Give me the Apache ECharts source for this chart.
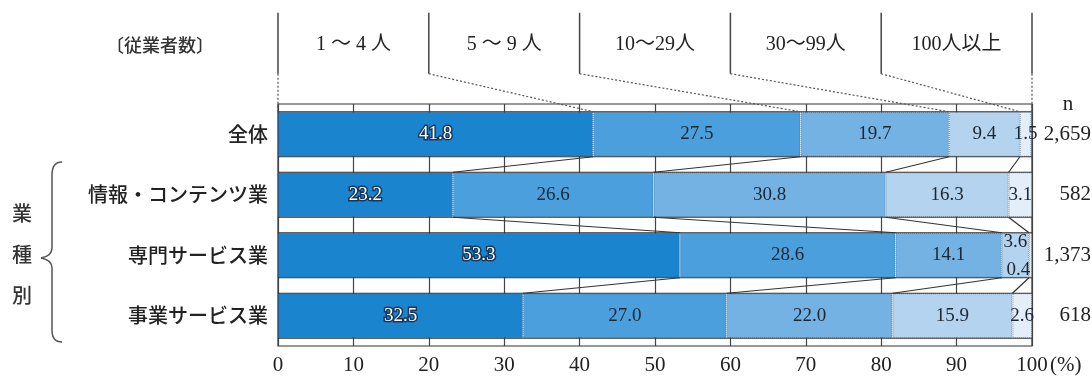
<!DOCTYPE html>
<html>
<head>
<meta charset="utf-8">
<script src="https://cdn.jsdelivr.net/npm/echarts@6/dist/echarts.min.js"></script>
<style>
  html, body { margin: 0; padding: 0; background: #ffffff; }
  #chart { width: 1092px; height: 376px; }
</style>
</head>
<body>
<div id="chart"></div>
<script>
// Rows (industries) and employee-size classes
const categories = ['全体', '情報・コンテンツ業', '専門サービス業', '事業サービス業'];
const sizeClasses = ['1 ～ 4 人', '5 ～ 9 人', '10～29人', '30～99人', '100人以上'];

// Share of firms per size class (%), one value per row
const share1to4 = [41.8, 23.2, 53.3, 32.5];
const share5to9 = [27.5, 26.6, 28.6, 27.0];
const share10to29 = [19.7, 30.8, 14.1, 22.0];
const share30to99 = [9.4, 16.3, 3.6, 15.9];
const share100plus = [1.5, 3.1, 0.4, 2.6];

// Number of respondents per row
const nValues = ['2,659', '582', '1,373', '618'];

// Axis ticks
const xTicks = [0, 10, 20, 30, 40, 50, 60, 70, 80, 90, 100];

const seriesValues = [share1to4, share5to9, share10to29, share30to99, share100plus];
const colors = ['#1b84cf', '#4a9fdc', '#73b2e3', '#b3d3ee', '#e3eef8'];
const FONT = "'Liberation Serif', 'Noto Sans CJK JP', serif";
const JP_FONT = "'Noto Sans CJK JP', sans-serif";
const BAR_WIDTH = 45;
const LINE = '#333333';

// cumulative boundaries of each row (start at 0)
const cumulative = categories.map((_, r) => {
  const out = [0];
  let s = 0;
  seriesValues.forEach(vals => { s += vals[r]; out.push(Math.round(s * 10) / 10); });
  return out;
});

// per-point label adjustments for narrow segments
const labelTweaks = {
  '3-2': { offset: [0, -13] },
  '4-2': { offset: [-12, 15] }
};

const barSeries = seriesValues.map((vals, s) => ({
  name: sizeClasses[s],
  type: 'bar',
  stack: 'total',
  barWidth: BAR_WIDTH,
  silent: true,
  z: 2,
  itemStyle: { color: colors[s], borderColor: 'rgba(20,60,110,0.45)', borderWidth: 1, borderType: 'dotted' },
  label: {
    show: true,
    position: 'inside',
    fontFamily: FONT,
    fontSize: 19,
    color: s === 0 ? '#ffffff' : '#1c2733',
    textBorderColor: s === 0 ? '#17365a' : 'transparent',
    textBorderWidth: s === 0 ? 3 : 0,
    formatter: p => p.value.toFixed(1)
  },
  data: vals.map((v, r) => {
    const t = labelTweaks[s + '-' + r];
    return t ? { value: v, label: t } : v;
  })
}));

// horizontal rails at the top and bottom edge of every bar
const railSeries = {
  type: 'custom',
  silent: true,
  z: 5,
  clip: false,
  data: categories.map((c, i) => [0, i]),
  renderItem: (params, api) => {
    const i = params.dataIndex;
    const a = api.coord([0, i]);
    const b = api.coord([100, i]);
    const h = BAR_WIDTH / 2;
    return {
      type: 'group',
      children: [-h, h].map(d => ({
        type: 'line',
        shape: { x1: a[0], y1: a[1] + d, x2: b[0], y2: b[1] + d },
        style: { stroke: LINE, lineWidth: 1.2 }
      }))
    };
  }
};

// lines joining matching class boundaries of neighbouring bars
const connectorSeries = {
  type: 'custom',
  silent: true,
  z: 5,
  clip: false,
  data: categories.slice(0, -1).map((c, i) => [0, i]),
  renderItem: (params, api) => {
    const i = params.dataIndex;
    const h = BAR_WIDTH / 2;
    const children = [];
    for (let k = 1; k < sizeClasses.length; k++) {
      const p = api.coord([cumulative[i][k], i]);
      const q = api.coord([cumulative[i + 1][k], i + 1]);
      children.push({
        type: 'line',
        shape: { x1: p[0], y1: p[1] + h, x2: q[0], y2: q[1] - h },
        style: { stroke: LINE, lineWidth: 1.2 }
      });
    }
    return { type: 'group', children };
  }
};

// size-class header above the first bar, with dotted leaders into it
const headerBounds = [0, 20, 40, 60, 80, 100];
const headerSeries = {
  type: 'custom',
  silent: true,
  z: 6,
  clip: false,
  data: [[0, 0]],
  renderItem: (params, api) => {
    const h = BAR_WIDTH / 2;
    const barTop = api.coord([0, 0])[1] - h;
    const children = [];
    headerBounds.forEach((b, k) => {
      const x = api.coord([b, 0])[0];
      const target = k === headerBounds.length - 1 ? 100 : cumulative[0][k];
      const tx = api.coord([target, 0])[0];
      children.push({
        type: 'line',
        shape: { x1: x, y1: barTop - 99, x2: x, y2: barTop - 38 },
        style: { stroke: '#444', lineWidth: 1.5 }
      });
      children.push({
        type: 'line',
        shape: { x1: x, y1: barTop - 38, x2: tx, y2: barTop },
        style: { stroke: '#555', lineWidth: 1.2, lineDash: [2, 2] }
      });
      if (k < sizeClasses.length) {
        const cx = (x + api.coord([headerBounds[k + 1], 0])[0]) / 2;
        children.push({
          type: 'text',
          style: {
            text: sizeClasses[k],
            x: cx, y: barTop - 67,
            align: 'center', verticalAlign: 'middle',
            font: '20px ' + FONT,
            fill: '#222'
          }
        });
      }
    });
    return { type: 'group', children };
  }
};

// curly brace grouping the industry rows
const braceStyle = { stroke: '#555', lineWidth: 1.5, fill: null };
const brace = {
  type: 'group',
  children: [
    { type: 'bezierCurve', shape: { x1: 62, y1: 162, cpx1: 52, cpy1: 162, x2: 52, y2: 175 }, style: braceStyle },
    { type: 'line', shape: { x1: 52, y1: 175, x2: 52, y2: 248 }, style: braceStyle },
    { type: 'bezierCurve', shape: { x1: 52, y1: 248, cpx1: 52, cpy1: 256, x2: 41, y2: 258 }, style: braceStyle },
    { type: 'bezierCurve', shape: { x1: 41, y1: 258, cpx1: 52, cpy1: 260, x2: 52, y2: 268 }, style: braceStyle },
    { type: 'line', shape: { x1: 52, y1: 268, x2: 52, y2: 330 }, style: braceStyle },
    { type: 'bezierCurve', shape: { x1: 52, y1: 330, cpx1: 52, cpy1: 342, x2: 62, y2: 342 }, style: braceStyle }
  ]
};

const chart = echarts.init(document.getElementById('chart'), null, { renderer: 'canvas' });
chart.setOption({
  animation: false,
  backgroundColor: '#ffffff',
  grid: {
    left: 278, right: 60, top: 104, bottom: 30,
    outerBoundsMode: 'none',
    show: true, borderColor: LINE, borderWidth: 1.2
  },
  xAxis: {
    type: 'value',
    min: xTicks[0], max: xTicks[xTicks.length - 1], interval: xTicks[1] - xTicks[0],
    axisLine: { show: false },
    axisTick: { show: false },
    splitLine: { show: true, lineStyle: { color: '#444', width: 1.2 } },
    axisLabel: { fontFamily: FONT, fontSize: 21, color: '#222', margin: 9 }
  },
  yAxis: [{
    type: 'category',
    data: categories,
    inverse: true,
    axisLine: { show: false },
    axisTick: { show: false },
    axisLabel: { fontFamily: JP_FONT, fontSize: 20, fontWeight: 500, color: '#222', margin: 10 }
  }, {
    type: 'category',
    data: categories,
    inverse: true,
    position: 'right',
    axisLine: { show: false },
    axisTick: { show: false },
    axisLabel: {
      fontFamily: FONT, fontSize: 21, color: '#222', align: 'right', margin: 59,
      formatter: (v, i) => nValues[i]
    }
  }],
  graphic: [
    {
      type: 'text', x: 106, y: 45,
      style: { text: '〔従業者数〕', font: '500 18px ' + JP_FONT, fill: '#333', verticalAlign: 'middle' }
    },
    {
      type: 'text', x: 1068, y: 104,
      style: { text: 'n', font: '21px ' + FONT, fill: '#222', align: 'center', verticalAlign: 'middle' }
    },
    {
      type: 'text', x: 1050, y: 365,
      style: { text: '(%)', font: '21px ' + FONT, fill: '#222', align: 'left', verticalAlign: 'middle' }
    },
    {
      type: 'text', x: 22, y: 254,
      style: {
        text: '業\n種\n別', font: '500 20px ' + JP_FONT, fill: '#333',
        align: 'center', verticalAlign: 'middle', lineHeight: 41
      }
    },
    brace
  ],
  series: [...barSeries, railSeries, connectorSeries, headerSeries]
});
</script>
</body>
</html>
